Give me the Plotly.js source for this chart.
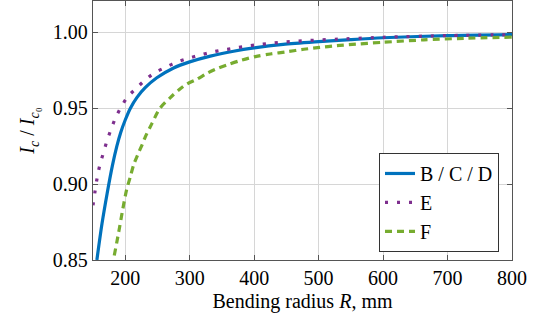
<!DOCTYPE html>
<html><head><meta charset="utf-8">
<script src="https://cdn.plot.ly/plotly-3.0.1.min.js"></script>
<style>html,body{margin:0;padding:0;background:#fff}</style>
</head><body><div id="chart" style="width:543px;height:322px"></div>
<script>
const seriesNames = ["B / C / D", "E", "F"];
const rBCD = [156, 164, 172, 180, 187, 193, 200, 208, 218, 231, 249, 275, 300, 332, 368, 400, 445, 500, 550, 600, 700, 800];
const icBCD = [0.850, 0.874, 0.894, 0.912, 0.925, 0.934, 0.9422, 0.950, 0.957, 0.9635, 0.970, 0.9765, 0.9805, 0.9843, 0.9875, 0.9897, 0.992, 0.9938, 0.9952, 0.9964, 0.9978, 0.9985];
const rE = [150, 154, 157, 161, 166.5, 172, 178, 185, 194, 204, 217, 231, 246, 264, 281, 299, 316, 335, 354, 372, 391, 409, 428, 447, 466, 485, 504, 541, 600, 700, 800];
const icE = [0.886, 0.8976, 0.9055, 0.9132, 0.921, 0.929, 0.936, 0.9437, 0.951, 0.9576, 0.963, 0.9686, 0.9734, 0.9772, 0.9805, 0.983, 0.985, 0.987, 0.9885, 0.9897, 0.991, 0.992, 0.9928, 0.9936, 0.9941, 0.9946, 0.995, 0.9957, 0.9967, 0.9978, 0.9984];
const rF = [183, 190, 196, 202, 208, 213, 219, 226, 231, 241.5, 254, 270, 283, 296, 311, 327, 340, 358, 378, 402, 425, 451, 477, 502, 528, 546, 600, 663, 725, 800];
const icF = [0.853, 0.8686, 0.883, 0.896, 0.905, 0.9126, 0.919, 0.9257, 0.931, 0.940, 0.950, 0.957, 0.962, 0.966, 0.969, 0.973, 0.9756, 0.9785, 0.9813, 0.984, 0.9857, 0.9872, 0.9888, 0.990, 0.9912, 0.9918, 0.9934, 0.995, 0.996, 0.9968];
const xTicks = [200, 300, 400, 500, 600, 700, 800];
const yTicks = [0.85, 0.90, 0.95, 1.00];

const serifFamily = "serif";
const traces = [
  {x: rBCD, y: icBCD, name: seriesNames[0], mode: "lines", line: {color: "#0072BD", width: 3.2, shape: "spline", smoothing: 0.8}},
  {x: rE, y: icE, name: seriesNames[1], mode: "lines", line: {color: "#7E2F8E", width: 3.2, dash: "3px,9px", shape: "spline", smoothing: 0.8}},
  {x: rF, y: icF, name: seriesNames[2], mode: "lines", line: {color: "#77AC30", width: 3.2, dash: "7px,5px", shape: "spline", smoothing: 0.8}}
];
const axisCommon = {
  showline: true, mirror: "ticks", linecolor: "#555", linewidth: 1.3,
  ticks: "inside", ticklen: 5, tickcolor: "#555", tickwidth: 1,
  showgrid: true, gridcolor: "#d6d6d6", gridwidth: 1, zeroline: false,
  tickfont: {family: serifFamily, size: 20, color: "#000"}
};
const layout = {
  width: 543, height: 322,
  margin: {l: 93, r: 31, t: 1, b: 62},
  paper_bgcolor: "#fff", plot_bgcolor: "#fff",
  font: {family: serifFamily, color: "#000", size: 20},
  showlegend: true,
  legend: {x: 0.969, y: 0.031, xanchor: "right", yanchor: "bottom",
    bgcolor: "#fff", bordercolor: "#333", borderwidth: 1,
    font: {family: serifFamily, size: 20, color: "#000"}, tracegroupgap: 0},
  xaxis: Object.assign({}, axisCommon, {
    range: [150, 800], tickvals: xTicks, ticktext: xTicks.map(String),
    title: {text: "Bending radius <i>R</i>, mm", font: {family: serifFamily, size: 20, color: "#000"}, standoff: 5}
  }),
  yaxis: Object.assign({}, axisCommon, {
    range: [0.85, 1.0206], tickvals: yTicks, ticktext: yTicks.map(v => v.toFixed(2)),
    title: {text: "<i>I<sub>c</sub></i> / <i>I</i><sub><i>c</i>₀</sub>", font: {family: serifFamily, size: 20, color: "#000"}, standoff: 12}
  })
};
Plotly.newPlot("chart", traces, layout, {displayModeBar: false});
</script></body></html>
